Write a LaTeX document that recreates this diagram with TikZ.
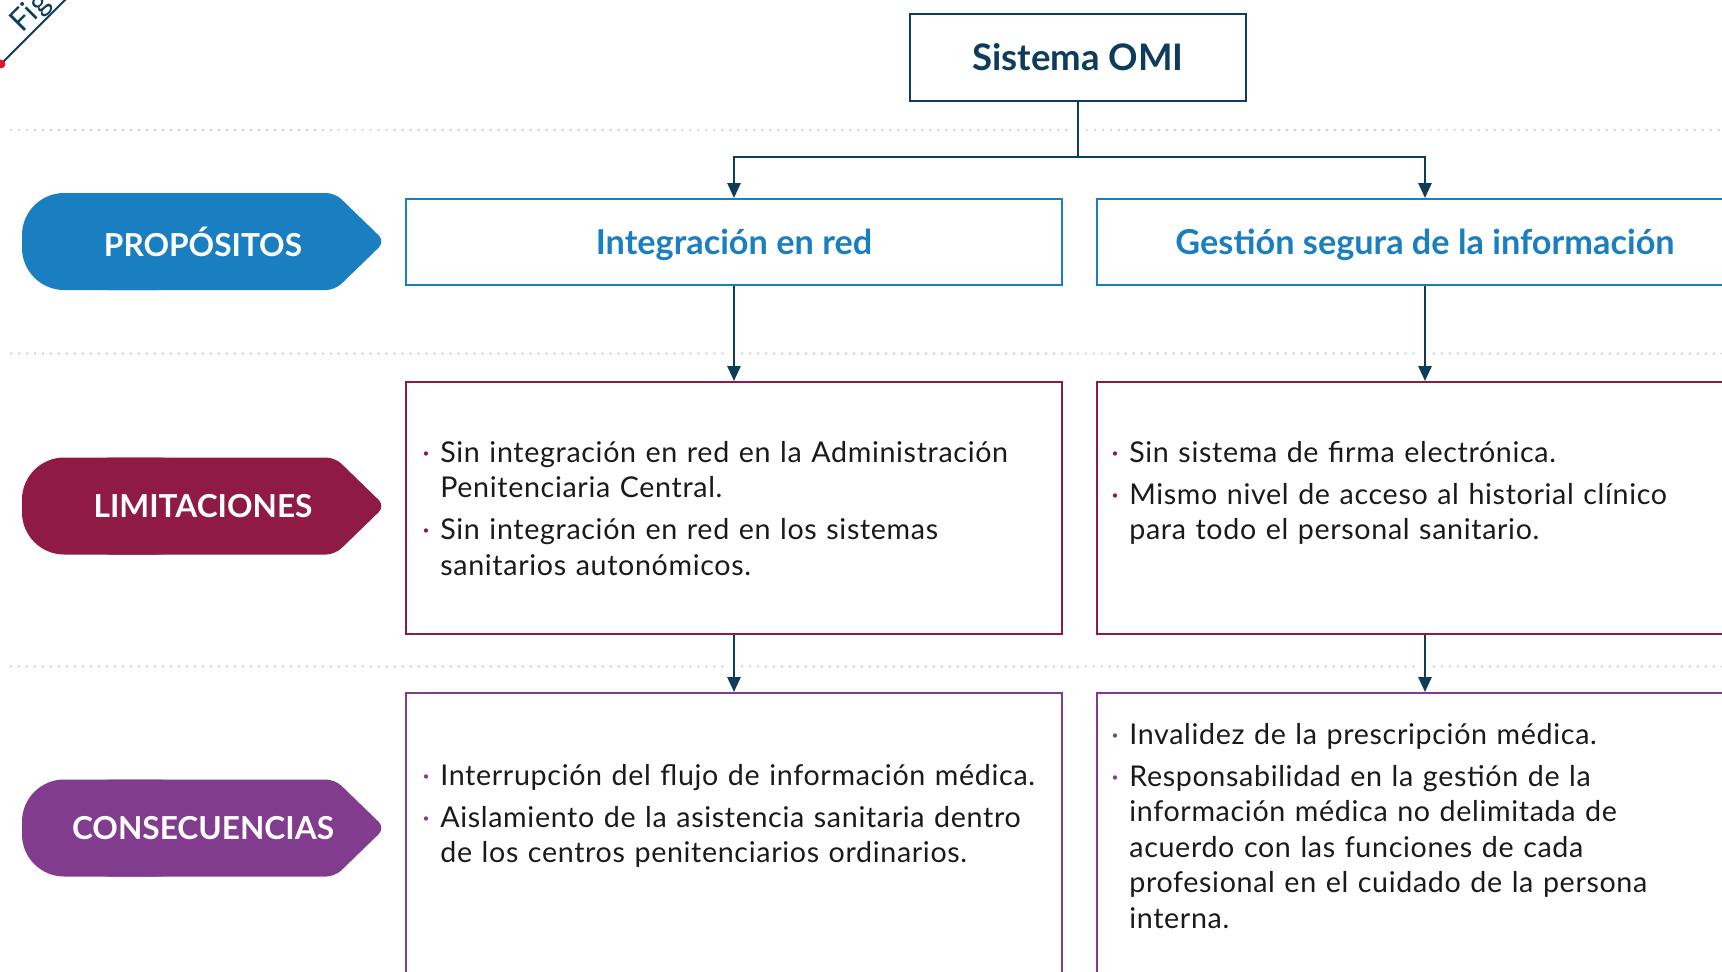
\documentclass[tikz,border=0pt]{standalone}
\usepackage{fontspec}
\setmainfont{Lato}
\usepackage{xcolor}
\usetikzlibrary{arrows.meta,positioning}

\definecolor{omiblue}{HTML}{1A7FC1}
\definecolor{omired}{HTML}{8F1A43}
\definecolor{omipurple}{HTML}{823C8E}
\definecolor{navy}{HTML}{0E3D5B}
\definecolor{dotgray}{HTML}{CACACA}
\definecolor{ink}{HTML}{1A1A1A}
\definecolor{figred}{HTML}{D7192A}

\setlength{\parskip}{0pt}

% bullet line: colour, text
\newcommand{\bitem}[2]{\noindent\strut\llap{\textcolor{#1}{·}\hspace{6pt}}#2\par}
% row tag: name, y centre, colour, text
\newcommand{\rowtag}[4]{%
  \fill[#3, rounded corners=24pt] (22,{#2-48.5}) rectangle (200,{#2+48.5});
  \fill[#3, rounded corners=5pt] (100,{#2-48.5}) -- (335,{#2-48.5}) -- (385,#2)
    -- (335,{#2+48.5}) -- (100,{#2+48.5}) -- cycle;
  \node[tagtext] (#1) at (203,#2) {#4};}

\begin{document}
\begin{tikzpicture}[
    x=0.02cm, y=-0.02cm,
    omibox/.style={
        draw=navy,
        line width=1.2pt,
        minimum width=6.72cm,
        minimum height=1.74cm,
        font=\fontsize{20.8}{24}\selectfont\bfseries,
        text=navy
    },
    header/.style={
        draw=omiblue,
        line width=1.2pt,
        minimum width=13.12cm,
        minimum height=1.72cm,
        text depth=0pt,
        font=\fontsize{19.5}{23}\selectfont\bfseries,
        text=omiblue
    },
    limbox/.style={draw=omired, line width=1.2pt, minimum width=13.12cm, minimum height=5.04cm},
    consbox/.style={draw=omipurple, line width=1.2pt, minimum width=13.12cm, minimum height=6cm},
    bodytext/.style={
        anchor=north west,
        inner sep=0pt,
        text width=12.4cm,
        align=left,
        font=\fontsize{16.3}{20.2}\selectfont\addfontfeatures{LetterSpace=2.3},
        text=ink
    },
    tagtext/.style={text=white, font=\fontsize{18}{22}\selectfont\bfseries},
    link/.style={draw=navy, line width=1.2pt},
    arrow/.style={link, -{Triangle[length=8.5pt, width=7.5pt]}},
    sep/.style={dotgray, line width=1.4pt, line cap=round, dash pattern=on 0pt off 4.55pt}
]

\useasboundingbox (0,0) rectangle (1722,971);
\clip (0,0) rectangle (1722,971);
\fill[white] (0,0) rectangle (1722,971);

% Figure corner
\draw[navy, line width=1.1pt] (-2,67) -- (67,-2);
\fill[figred] (1,64) circle (2.5pt);
\node[rotate=45, text=navy, font=\fontsize{17.5}{20}\selectfont] (fig) at (31,13) {Fig};

% Row separators
\draw[sep] (11,130) -- (1070,130);
\draw[sep] (1087,130) -- (1722,130);
\draw[sep] (11,353.5) -- (725,353.5);
\draw[sep] (742,353.5) -- (1417,353.5);
\draw[sep] (1434,353.5) -- (1722,353.5);
\draw[sep] (11,666.5) -- (725,666.5);
\draw[sep] (742,666.5) -- (1417,666.5);
\draw[sep] (1434,666.5) -- (1722,666.5);

% Row tags
\rowtag{proposito}{241.5}{omiblue}{PROPÓSITOS}
\rowtag{limitacion}{506}{omired}{LIMITACIONES}
\rowtag{consecuencia}{828}{omipurple}{CONSECUENCIAS}

% Top
\node[omibox] (omi) at (1078,57.5) {Sistema OMI};

% Purposes
\node[header] (integracion) at (734,242) {Integración en red};
\node[header] (gestion) at (1425,242) {Gestión segura de la información\hspace{7.5pt}};

% Limitations
\node[limbox] (limred) at (734,508) {};
\node[limbox] (limgestion) at (1425,508) {};
\node[bodytext] (limredtxt) at (440,437) {%
  \bitem{omired}{Sin integración en red en la Administración\newline Penitenciaria Central.}\vspace{3.7pt}%
  \bitem{omired}{Sin integración en red en los sistemas\newline sanitarios autonómicos.}};
\node[bodytext] (limgestiontxt) at (1129,437) {%
  \bitem{omired}{Sin sistema de firma electrónica.}\vspace{3.7pt}%
  \bitem{omired}{Mismo nivel de acceso al historial clínico\newline para todo el personal sanitario.}};

% Consequences
\node[consbox] (consred) at (734,843) {};
\node[consbox] (consgestion) at (1425,843) {};
\node[bodytext] (consredtxt) at (440,760) {%
  \bitem{omipurple}{Interrupción del flujo de información médica.}\vspace{3.7pt}%
  \bitem{omipurple}{Aislamiento de la asistencia sanitaria dentro\newline de los centros penitenciarios ordinarios.}};
\node[bodytext] (consgestiontxt) at (1129,719) {%
  \bitem{omipurple}{Invalidez de la prescripción médica.}\vspace{3.7pt}%
  \bitem{omipurple}{Responsabilidad en la gestión de la\newline información médica no delimitada de\newline acuerdo con las funciones de cada\newline profesional en el cuidado de la persona\newline interna.}};

% Arrows
\coordinate (split) at (1078,157);
\draw[link] (omi.south) -- (split);
\draw[arrow] (split) -| (integracion.north);
\draw[arrow] (split) -| (gestion.north);
\draw[arrow] (integracion.south) -- (limred.north);
\draw[arrow] (gestion.south) -- (limgestion.north);
\draw[arrow] (limred.south) -- (consred.north);
\draw[arrow] (limgestion.south) -- (consgestion.north);

\end{tikzpicture}
\end{document}
